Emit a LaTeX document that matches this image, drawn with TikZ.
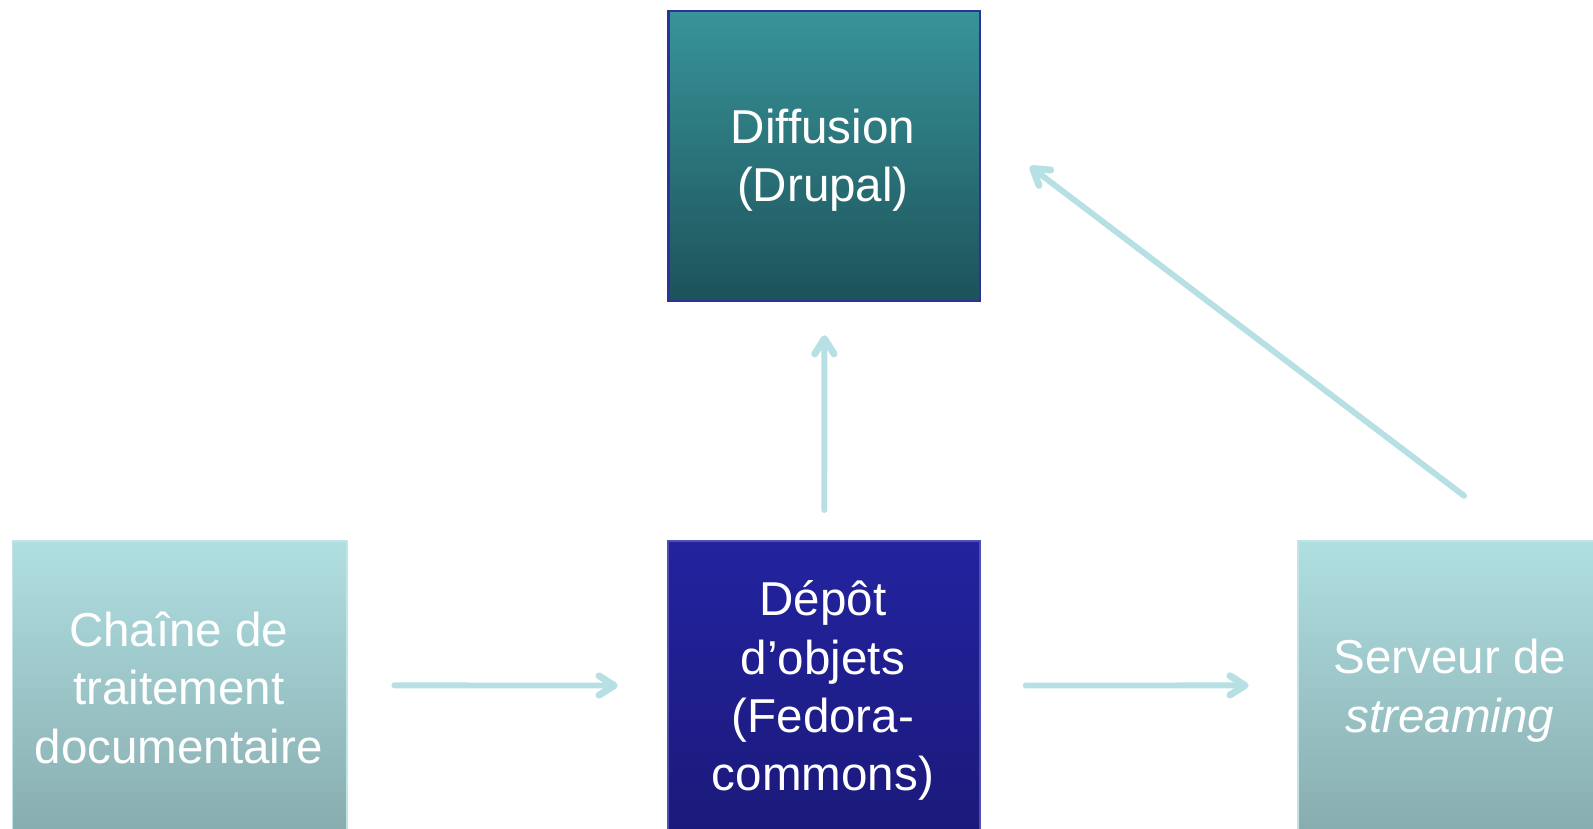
\documentclass[tikz,border=0pt]{standalone}
\usepackage{fontspec}
\setmainfont{Liberation Sans}
\usetikzlibrary{arrows.meta,calc}
\definecolor{arrowc}{RGB}{182,224,228}
\definecolor{diffTop}{RGB}{56,148,154}
\definecolor{diffBot}{RGB}{29,82,90}
\definecolor{diffLine}{RGB}{45,50,155}
\definecolor{depTop}{RGB}{35,35,160}
\definecolor{depBot}{RGB}{27,25,120}
\definecolor{depLine}{RGB}{80,80,180}
\definecolor{lightTop}{RGB}{176,223,226}
\definecolor{lightBot}{RGB}{134,170,172}
\definecolor{lightLine}{RGB}{192,228,231}
\tikzset{
  box/.style={rectangle, inner sep=0pt, anchor=north west},
  boxtext/.style={text=white, align=center, font=\fontsize{23.4}{28.7}\selectfont},
  arr/.style={draw=arrowc, line width=2.9pt, line cap=round,
    -{Straight Barb[length=7.5pt,width=9.5pt,line width=3.4pt,line cap=round,line join=round]}},
}
\begin{document}
\begin{tikzpicture}[x=0.5pt,y=-0.5pt]
\useasboundingbox (0,0) rectangle (1568,815);
\clip (0,0) rectangle (1568,815);
\fill[white] (0,0) rectangle (1568,815);
% boxes
\node[box, minimum width=153.5pt, minimum height=142.5pt, top color=diffTop, bottom color=diffBot, draw=diffLine, line width=1pt] (diff) at (657,10) {};
\node[box, minimum width=153.5pt, minimum height=150pt, top color=depTop, bottom color=depBot, draw=depLine, line width=0.8pt] (depot) at (657,532) {};
\node[box, minimum width=164.5pt, minimum height=150pt, top color=lightTop, bottom color=lightBot, draw=lightLine, line width=0.6pt] (chaine) at (12,532) {};
\node[box, minimum width=164.5pt, minimum height=150pt, top color=lightTop, bottom color=lightBot, draw=lightLine, line width=0.6pt] (serveur) at (1277,532) {};
% texts
\node[boxtext] (tdiff) at (810,158) {Diffusion\\(Drupal)};
\node[boxtext] (tdepot) at (810,680) {Dépôt\\d’objets\\(Fedora-\\commons)};
\node[boxtext] (tchaine) at (176,677) {Chaîne de\\traitement\\documentaire};
\node[boxtext] (tserveur) at (1427,680) {Serveur de\\\itshape streaming};
% connectors
\draw[arr, shorten <=23pt, shorten >=24.5pt] ([yshift=4pt]chaine.east) -- ([yshift=4pt]depot.west);
\draw[arr, shorten <=22pt, shorten >=24pt] ([yshift=4pt]depot.east) -- ([yshift=4pt]serveur.west);
\draw[arr, shorten <=15pt, shorten >=16.5pt] (depot.north) -- (diff.south);
\coordinate (dstart) at ($(serveur.north)+(-1,-44)$);
\coordinate (dend) at ($(diff.east)+(0,-26)$);
\draw[arr, shorten >=30pt] (dstart) -- (dend);
\end{tikzpicture}
\end{document}
